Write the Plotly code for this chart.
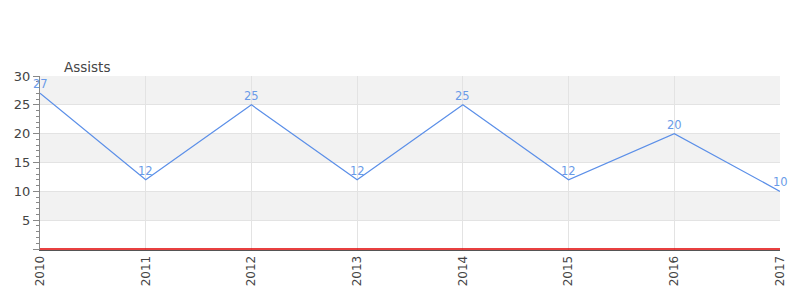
import plotly.graph_objects as go

years = [2010, 2011, 2012, 2013, 2014, 2015, 2016, 2017]
assists = [27, 12, 25, 12, 25, 12, 20, 10]
year_labels = [str(y) for y in years]
bands = [(5, 10), (15, 20), (25, 30)]
ytick_vals = [0, 5, 10, 15, 20, 25, 30]
ytick_text = ["", "5", "10", "15", "20", "25", "30"]

fig = go.Figure()
fig.add_trace(go.Scatter(
    x=years, y=assists, mode="lines",
    line=dict(color="#5b8fe8", width=1.2),
    cliponaxis=False, showlegend=False,
))
for x, v in zip(years, assists):
    fig.add_annotation(x=x, y=v, text=str(v), showarrow=False, yanchor="bottom", yshift=0,
                       font=dict(color="#6a9be8", size=11.5, family="DejaVu Sans"))
for lo, hi in bands:
    fig.add_shape(type="rect", xref="x", yref="y", x0=years[0], x1=years[-1], y0=lo, y1=hi,
                  fillcolor="#f2f2f2", line=dict(width=0), layer="below")
fig.add_shape(type="line", xref="x", yref="y", x0=years[0], x1=years[-1], y0=0, y1=0,
              line=dict(color="#e00000", width=1.5), layer="above")

fig.add_annotation(text="Assists", xref="x domain", yref="y domain", x=(62 - 40) / 740, y=1,
                   yanchor="bottom", xanchor="left", yshift=-1, showarrow=False,
                   font=dict(size=13.5, color="#444"))

fig.update_layout(
    width=800, height=300,
    margin=dict(l=40, r=20, t=76, b=50),
    plot_bgcolor="white", paper_bgcolor="white",
    font=dict(family="DejaVu Sans", color="#444"),
)
fig.update_xaxes(
    range=[years[0], years[-1]], tickvals=years, ticktext=year_labels, tickangle=-90,
    showgrid=True, gridcolor="#e3e3e3", gridwidth=1,
    showline=True, linecolor="#555", linewidth=1, ticks="", zeroline=False,
    tickfont=dict(size=12, color="#444"),
)
fig.update_yaxes(
    range=[-0.17, 30], tickvals=ytick_vals, ticktext=ytick_text,
    showgrid=True, gridcolor="#e3e3e3", gridwidth=1,
    showline=True, linecolor="#888", linewidth=1,
    ticks="outside", ticklen=6, tickcolor="#888",
    minor=dict(ticks="outside", ticklen=3, tickcolor="#888", dtick=1, showgrid=False),
    zeroline=False,
    tickfont=dict(size=13, color="#444"),
)
fig.write_html("out.html")
